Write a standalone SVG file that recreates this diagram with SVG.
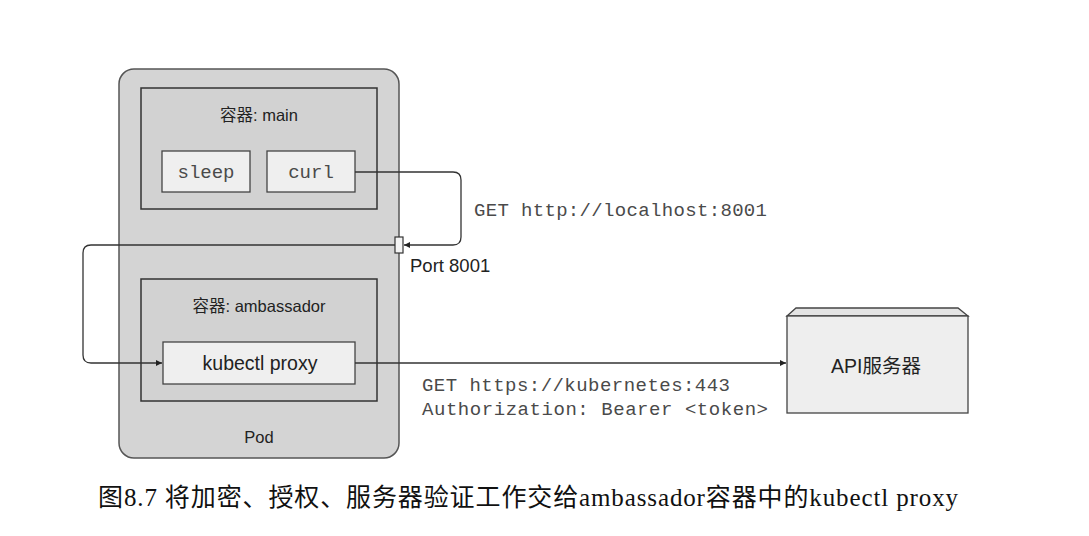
<svg xmlns="http://www.w3.org/2000/svg" width="1089" height="536" viewBox="0 0 1089 536">
<style>
.sans{font-family:"Liberation Sans","Noto Sans CJK SC",sans-serif;fill:#222}
.mono{font-family:"Liberation Mono",monospace;fill:#4a4a4a;font-size:19px}
.cont{fill:#d2d2d2;stroke:#333;stroke-width:1.5}
.box{fill:#efefef;stroke:#444;stroke-width:1.3}
.wire{fill:none;stroke:#333;stroke-width:1.3}
</style>
<defs>
<marker id="arr" viewBox="0 0 10 10" refX="10" refY="5" markerWidth="8" markerHeight="6" markerUnits="userSpaceOnUse" orient="auto">
<path d="M0,0 L10,5 L0,10 Z" fill="#222"/>
</marker>
</defs>
<rect width="1089" height="536" fill="#fff"/>
<g id="pod">
<rect x="119" y="69" width="280" height="389" rx="15" fill="#d4d4d4" stroke="#555" stroke-width="1.5"/>
<text class="sans" x="259" y="443" font-size="16.5" text-anchor="middle">Pod</text>
</g>
<g id="main">
<rect class="cont" x="141" y="88" width="236" height="121"/>
<text class="sans" x="259" y="121" font-size="16.5" text-anchor="middle">容器: main</text>
</g>
<g id="sleep">
<rect class="box" x="162" y="151" width="88" height="41"/>
<text class="mono" x="206" y="178" text-anchor="middle">sleep</text>
</g>
<g id="curl">
<rect class="box" x="267" y="151" width="88" height="41"/>
<text class="mono" x="311" y="178" text-anchor="middle">curl</text>
</g>
<g id="ambassador">
<rect class="cont" x="141" y="279" width="236" height="122"/>
<text class="sans" x="259" y="312" font-size="16.5" text-anchor="middle">容器: ambassador</text>
</g>
<g id="kubectl">
<rect class="box" x="163" y="342" width="192" height="42"/>
<text class="sans" x="260" y="370" font-size="19.5" text-anchor="middle">kubectl proxy</text>
</g>
<g id="api">
<polygon points="787,316 796,308 958,308 968,316" fill="#e4e4e4" stroke="#444" stroke-width="1.3"/>
<rect x="787" y="316" width="181" height="97" fill="#eeeeee" stroke="#444" stroke-width="1.3"/>
<text class="sans" x="876" y="373" font-size="19.5" text-anchor="middle">API服务器</text>
</g>
<g id="connectors">
<path class="wire" d="M355,172 H453 Q461,172 461,180 V237 Q461,245 453,245 H404" marker-end="url(#arr)"/>
<path class="wire" d="M395,245 H91 Q83,245 83,253 V355 Q83,363 91,363 H162" marker-end="url(#arr)"/>
<path class="wire" d="M355,363 H786" marker-end="url(#arr)"/>
</g>
<g id="port">
<rect x="395" y="237" width="8" height="16" fill="#f4f4f4" stroke="#333" stroke-width="1.2"/>
<text class="sans" x="410" y="272" font-size="18.5">Port 8001</text>
</g>
<g id="labels">
<text class="mono" x="474" y="216" textLength="293" lengthAdjust="spacing">GET http://localhost:8001</text>
<text class="mono" x="422" y="391" textLength="308" lengthAdjust="spacing">GET https://kubernetes:443</text>
<text class="mono" x="422" y="415" textLength="346" lengthAdjust="spacing">Authorization: Bearer &lt;token&gt;</text>
</g>
<text x="98" y="506" font-size="25" textLength="860" lengthAdjust="spacing" style="font-family:'Liberation Serif','Noto Sans CJK SC',serif;fill:#111">图8.7 将加密、授权、服务器验证工作交给ambassador容器中的kubectl proxy</text>
</svg>
